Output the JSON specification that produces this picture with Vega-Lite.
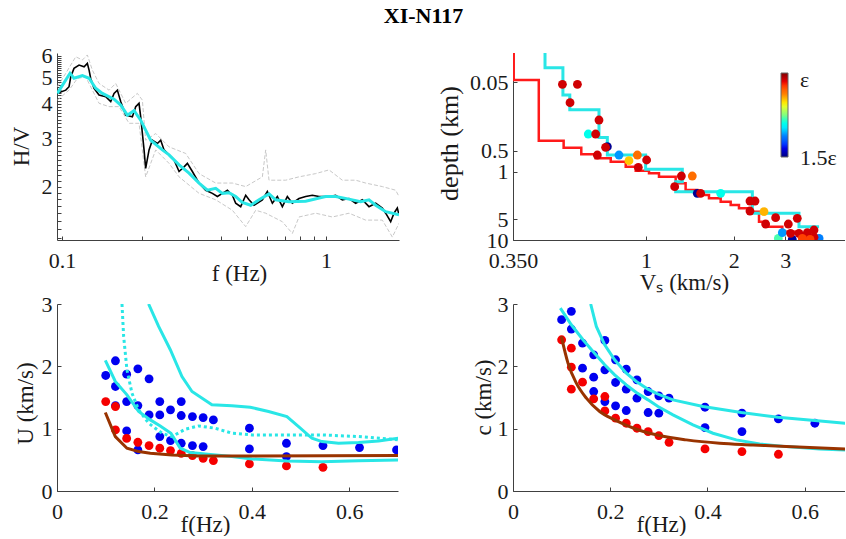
{
  "$schema": "https://vega.github.io/schema/vega-lite/v6.json",
  "title": {"text": "XI-N117", "font": "Liberation Serif", "fontSize": 22, "fontWeight": "bold", "color": "#000000", "anchor": "middle", "offset": 17, "dx": -4},
  "padding": {"left": 10, "top": 4, "right": 0, "bottom": 0},
  "autosize": {"type": "pad"},
  "bounds": "flush",
  "columns": 2,
  "spacing": {"row": 64, "column": 114},
  "config": {
    "font": "Liberation Serif",
    "view": {"stroke": null},
    "axis": {"grid": false, "labelFont": "Liberation Serif", "labelFontSize": 22, "labelColor": "#1a1a1a", "titleFont": "Liberation Serif", "titleFontSize": 23, "titleFontWeight": "normal", "titleColor": "#1a1a1a", "domainColor": "#404040", "tickColor": "#404040", "tickSize": -4, "domainWidth": 1, "tickWidth": 1, "labelOverlap": false, "labelFlush": false, "titleBaseline": "middle"},
    "axisX": {"labelPadding": 14},
    "axisY": {"labelPadding": 9}
  },
  "concat": [
    {
      "width": 342, "height": 187,
      "layer": [
        {
          "data": {"values": [
            {"s":"up","f":0.0960,"hv":4.62},{"s":"up","f":0.1033,"hv":5.17},{"s":"up","f":0.1127,"hv":5.94},{"s":"up","f":0.1194,"hv":5.78},{"s":"up","f":0.1247,"hv":6.03},{"s":"up","f":0.1303,"hv":5.31},{"s":"up","f":0.1381,"hv":4.75},{"s":"up","f":0.1507,"hv":4.49},{"s":"up","f":0.1597,"hv":4.75},{"s":"up","f":0.1742,"hv":4.02},{"s":"up","f":0.1929,"hv":4.37},{"s":"up","f":0.2015,"hv":4.13},{"s":"up","f":0.2074,"hv":2.95},{"s":"up","f":0.2264,"hv":3.12},{"s":"up","f":0.2543,"hv":2.79},{"s":"up","f":0.2941,"hv":2.64},{"s":"up","f":0.3304,"hv":2.23},{"s":"up","f":0.3821,"hv":2.06},{"s":"up","f":0.4418,"hv":2.06},{"s":"up","f":0.4963,"hv":2.00},{"s":"up","f":0.5739,"hv":2.17},{"s":"up","f":0.5908,"hv":2.72},{"s":"up","f":0.6082,"hv":2.11},{"s":"up","f":0.7034,"hv":2.11},{"s":"up","f":0.7901,"hv":2.17},{"s":"up","f":0.9136,"hv":2.23},{"s":"up","f":1.0265,"hv":2.30},{"s":"up","f":1.1531,"hv":2.11},{"s":"up","f":1.2952,"hv":2.11},{"s":"up","f":1.4132,"hv":2.06},{"s":"up","f":1.6343,"hv":2.00},{"s":"up","f":1.8359,"hv":1.94},{"s":"up","f":1.8899,"hv":1.84},
            {"s":"lo","f":0.0960,"hv":4.13},{"s":"lo","f":0.1063,"hv":4.49},{"s":"lo","f":0.1143,"hv":4.95},{"s":"lo","f":0.1229,"hv":5.02},{"s":"lo","f":0.1303,"hv":4.49},{"s":"lo","f":0.1381,"hv":4.02},{"s":"lo","f":0.1507,"hv":3.91},{"s":"lo","f":0.1644,"hv":3.91},{"s":"lo","f":0.1794,"hv":3.40},{"s":"lo","f":0.1957,"hv":3.40},{"s":"lo","f":0.2074,"hv":2.17},{"s":"lo","f":0.2264,"hv":2.72},{"s":"lo","f":0.2543,"hv":2.43},{"s":"lo","f":0.2775,"hv":2.17},{"s":"lo","f":0.3304,"hv":1.89},{"s":"lo","f":0.3821,"hv":1.79},{"s":"lo","f":0.4418,"hv":1.64},{"s":"lo","f":0.4963,"hv":1.43},{"s":"lo","f":0.5415,"hv":1.64},{"s":"lo","f":0.5908,"hv":1.60},{"s":"lo","f":0.6832,"hv":1.49},{"s":"lo","f":0.7455,"hv":1.35},{"s":"lo","f":0.7901,"hv":1.55},{"s":"lo","f":0.9136,"hv":1.60},{"s":"lo","f":1.0568,"hv":1.55},{"s":"lo","f":1.2221,"hv":1.60},{"s":"lo","f":1.4132,"hv":1.51},{"s":"lo","f":1.6343,"hv":1.51},{"s":"lo","f":1.7833,"hv":1.31},{"s":"lo","f":1.8899,"hv":1.47}
          ]},
          "mark": {"type": "line", "color": "#c8c8c8", "strokeWidth": 1, "strokeDash": [4, 2], "clip": true},
          "encoding": {
            "x": {"field": "f", "type": "quantitative", "scale": {"type": "log", "domain": [0.0957, 1.89], "nice": false},
                  "axis": {"values": [0.1,0.2,0.3,0.4,0.5,0.6,0.7,0.8,0.9,1], "labelExpr": "datum.value == 0.1 ? '0.1' : datum.value == 1 ? '1' : ''", "title": "f (Hz)", "titleX": 182, "titleY": 33}},
            "y": {"field": "hv", "type": "quantitative", "scale": {"type": "log", "domain": [1.278, 6.13], "nice": false},
                  "axis": {"values": [1.3,1.4,1.5,1.6,1.7,1.8,1.9,2,2.1,2.2,2.3,2.4,2.5,2.6,2.7,2.8,2.9,3,3.1,3.2,3.3,3.4,3.5,3.6,3.7,3.8,3.9,4,4.1,4.2,4.3,4.4,4.5,4.6,4.7,4.8,4.9,5,5.1,5.2,5.3,5.4,5.5,5.6,5.7,5.8,5.9,6], "labelExpr": "indexof([2,3,4,5,6], datum.value) >= 0 ? '' + datum.value : ''", "title": "H/V", "titleX": -36, "titleY": 93}},
            "detail": {"field": "s"}
          }
        },
        {
          "data": {"values": [
            {"f":0.0960,"hv":4.37},{"f":0.1033,"hv":4.49},{"f":0.1063,"hv":4.62},{"f":0.1079,"hv":5.02},{"f":0.1110,"hv":5.39},{"f":0.1160,"hv":5.54},{"f":0.1212,"hv":5.46},{"f":0.1247,"hv":5.62},{"f":0.1266,"hv":5.31},{"f":0.1284,"hv":4.95},{"f":0.1322,"hv":4.56},{"f":0.1381,"hv":4.31},{"f":0.1464,"hv":4.25},{"f":0.1529,"hv":4.08},{"f":0.1574,"hv":4.37},{"f":0.1620,"hv":4.49},{"f":0.1668,"hv":4.08},{"f":0.1742,"hv":3.64},{"f":0.1847,"hv":3.59},{"f":0.1901,"hv":3.91},{"f":0.1957,"hv":4.02},{"f":0.1986,"hv":3.59},{"f":0.2045,"hv":2.72},{"f":0.2074,"hv":2.33},{"f":0.2136,"hv":2.72},{"f":0.2199,"hv":2.95},{"f":0.2297,"hv":2.87},{"f":0.2365,"hv":2.95},{"f":0.2434,"hv":2.72},{"f":0.2543,"hv":2.61},{"f":0.2656,"hv":2.50},{"f":0.2775,"hv":2.27},{"f":0.2899,"hv":2.36},{"f":0.2984,"hv":2.43},{"f":0.3117,"hv":2.27},{"f":0.3304,"hv":2.06},{"f":0.3501,"hv":1.94},{"f":0.3711,"hv":1.89},{"f":0.3877,"hv":1.84},{"f":0.4049,"hv":1.89},{"f":0.4230,"hv":1.94},{"f":0.4418,"hv":1.86},{"f":0.4548,"hv":1.74},{"f":0.4751,"hv":1.69},{"f":0.4963,"hv":1.86},{"f":0.5109,"hv":1.79},{"f":0.5337,"hv":1.71},{"f":0.5739,"hv":1.79},{"f":0.5994,"hv":1.92},{"f":0.6262,"hv":1.74},{"f":0.6541,"hv":1.84},{"f":0.6832,"hv":1.69},{"f":0.7137,"hv":1.84},{"f":0.7455,"hv":1.74},{"f":0.7901,"hv":1.81},{"f":0.8373,"hv":1.84},{"f":0.8874,"hv":1.86},{"f":0.9406,"hv":1.84},{"f":1.0265,"hv":1.84},{"f":1.088,"hv":1.86},{"f":1.1531,"hv":1.79},{"f":1.2221,"hv":1.81},{"f":1.2952,"hv":1.74},{"f":1.3727,"hv":1.79},{"f":1.4549,"hv":1.69},{"f":1.542,"hv":1.74},{"f":1.6343,"hv":1.67},{"f":1.6826,"hv":1.60},{"f":1.7576,"hv":1.49},{"f":1.8094,"hv":1.60},{"f":1.8627,"hv":1.67},{"f":1.8899,"hv":1.58}
          ]},
          "mark": {"type": "line", "color": "#000000", "strokeWidth": 1.6, "clip": true},
          "encoding": {"x": {"field": "f", "type": "quantitative"}, "y": {"field": "hv", "type": "quantitative"}}
        },
        {
          "data": {"values": [
            {"f":0.0960,"hv":4.37},{"f":0.1072,"hv":5.17},{"f":0.1110,"hv":4.96},{"f":0.1194,"hv":5.07},{"f":0.1266,"hv":4.96},{"f":0.1341,"hv":4.56},{"f":0.1422,"hv":4.37},{"f":0.1574,"hv":4.16},{"f":0.1668,"hv":3.96},{"f":0.1768,"hv":3.64},{"f":0.1874,"hv":3.78},{"f":0.1986,"hv":3.49},{"f":0.2167,"hv":2.95},{"f":0.2399,"hv":2.72},{"f":0.2543,"hv":2.61},{"f":0.2775,"hv":2.40},{"f":0.3028,"hv":2.24},{"f":0.3304,"hv":2.06},{"f":0.3553,"hv":1.94},{"f":0.3821,"hv":1.97},{"f":0.4049,"hv":1.89},{"f":0.4292,"hv":1.90},{"f":0.4548,"hv":1.84},{"f":0.4821,"hv":1.75},{"f":0.5184,"hv":1.71},{"f":0.5574,"hv":1.79},{"f":0.6082,"hv":1.88},{"f":0.6446,"hv":1.79},{"f":0.7241,"hv":1.76},{"f":0.8373,"hv":1.77},{"f":0.9971,"hv":1.84},{"f":1.088,"hv":1.84},{"f":1.2221,"hv":1.80},{"f":1.353,"hv":1.76},{"f":1.4549,"hv":1.79},{"f":1.542,"hv":1.71},{"f":1.6826,"hv":1.62},{"f":1.8899,"hv":1.58}
          ]},
          "mark": {"type": "line", "color": "#29e6e6", "strokeWidth": 3, "clip": true},
          "encoding": {"x": {"field": "f", "type": "quantitative"}, "y": {"field": "hv", "type": "quantitative"}}
        },
        {
          "mark": {"type": "rect", "fill": "#ffffff", "stroke": "#000000", "strokeWidth": 1.3},
          "encoding": {"x": {"datum": 0.0957, "type": "quantitative"}, "x2": {"datum": 0.112}, "y": {"datum": 1.278, "type": "quantitative"}, "y2": {"datum": 1.563}}
        },
        {
          "mark": {"type": "text", "text": "A", "font": "Liberation Serif", "fontSize": 18, "align": "center", "baseline": "middle", "color": "#000000"},
          "encoding": {"x": {"datum": 0.1035, "type": "quantitative"}, "y": {"datum": 1.413, "type": "quantitative"}}
        }
      ]
    },
    {
      "width": 332, "height": 187,
      "layer": [
        {
          "data": {"values": [
            {"i":0,"v":0.352,"d":0.0186},{"i":1,"v":0.352,"d":0.0461},{"i":2,"v":0.429,"d":0.0461},{"i":3,"v":0.429,"d":0.355},{"i":4,"v":0.522,"d":0.355},{"i":5,"v":0.522,"d":0.45},{"i":6,"v":0.6,"d":0.45},{"i":7,"v":0.6,"d":0.56},{"i":8,"v":0.672,"d":0.56},{"i":9,"v":0.672,"d":0.642},{"i":10,"v":0.757,"d":0.642},{"i":11,"v":0.757,"d":0.718},{"i":12,"v":0.852,"d":0.718},{"i":13,"v":0.852,"d":0.85},{"i":14,"v":0.922,"d":0.85},{"i":15,"v":0.922,"d":0.972},{"i":16,"v":1.024,"d":0.972},{"i":17,"v":1.024,"d":1.064},{"i":18,"v":1.108,"d":1.064},{"i":19,"v":1.108,"d":1.19},{"i":20,"v":1.264,"d":1.19},{"i":21,"v":1.264,"d":1.489},{"i":22,"v":1.367,"d":1.489},{"i":23,"v":1.367,"d":1.862},{"i":24,"v":1.499,"d":1.862},{"i":25,"v":1.499,"d":2.203},{"i":26,"v":1.644,"d":2.203},{"i":27,"v":1.644,"d":2.464},{"i":28,"v":1.803,"d":2.464},{"i":29,"v":1.803,"d":2.756},{"i":30,"v":1.951,"d":2.756},{"i":31,"v":1.951,"d":3.083},{"i":32,"v":2.083,"d":3.083},{"i":33,"v":2.083,"d":3.448},{"i":34,"v":2.254,"d":3.448},{"i":35,"v":2.254,"d":3.857},{"i":36,"v":2.44,"d":3.857},{"i":37,"v":2.44,"d":5.4},{"i":38,"v":2.605,"d":5.4},{"i":39,"v":2.605,"d":6.39},{"i":40,"v":2.933,"d":6.39},{"i":41,"v":2.933,"d":7.55},{"i":42,"v":3.345,"d":7.55},{"i":43,"v":3.345,"d":8.94},{"i":44,"v":3.92,"d":8.94}
          ]},
          "mark": {"type": "line", "color": "#ff1a1a", "strokeWidth": 2.5, "clip": true},
          "encoding": {
            "x": {"field": "v", "type": "quantitative", "scale": {"type": "log", "domain": [0.35, 4.81], "nice": false},
                  "axis": {"values": [0.35, 1, 2, 3], "labelExpr": "datum.value < 0.5 ? '0.350' : '' + datum.value", "title": "Vₛ (km/s)", "titleX": 171, "titleY": 42}},
            "y": {"field": "d", "type": "quantitative", "scale": {"type": "log", "domain": [0.0186, 10], "nice": false, "reverse": true},
                  "axis": {"values": [0.05, 0.5, 1, 5, 10], "labelExpr": "'' + datum.value", "title": "depth (km)", "titleFontSize": 26, "titleX": -64, "titleY": 90}},
            "order": {"field": "i"}
          }
        },
        {
          "data": {"values": [
            {"i":0,"v":0.4506,"d":0.0186},{"i":1,"v":0.4506,"d":0.0305},{"i":2,"v":0.519,"d":0.0305},{"i":3,"v":0.519,"d":0.0764},{"i":4,"v":0.548,"d":0.0764},{"i":5,"v":0.548,"d":0.125},{"i":6,"v":0.69,"d":0.125},{"i":7,"v":0.69,"d":0.32},{"i":8,"v":0.737,"d":0.32},{"i":9,"v":0.737,"d":0.574},{"i":10,"v":0.997,"d":0.574},{"i":11,"v":0.997,"d":0.93},{"i":12,"v":1.332,"d":0.93},{"i":13,"v":1.332,"d":1.407},{"i":14,"v":1.264,"d":1.407},{"i":15,"v":1.264,"d":1.97},{"i":16,"v":2.315,"d":1.97},{"i":17,"v":2.315,"d":4.08},{"i":18,"v":3.345,"d":4.08},{"i":19,"v":3.345,"d":6.39},{"i":20,"v":3.92,"d":6.39}
          ]},
          "mark": {"type": "line", "color": "#29e6e6", "strokeWidth": 3, "clip": true},
          "encoding": {"x": {"field": "v", "type": "quantitative"}, "y": {"field": "d", "type": "quantitative"}, "order": {"field": "i"}}
        },
        {
          "data": {"values": [
            {"v":0.737,"d":0.434,"q":0.02},{"v":1.499,"d":2.084,"q":0.02},{"v":3.173,"d":9.78,"q":0.03},
            {"v":0.634,"d":0.2835,"q":0.40},{"v":0.808,"d":0.574,"q":0.27},{"v":0.934,"d":0.574,"q":0.78},{"v":1.441,"d":1.163,"q":0.78},{"v":0.874,"d":0.695,"q":0.68},{"v":2.538,"d":3.857,"q":0.70},{"v":1.803,"d":2.084,"q":0.40},{"v":2.842,"d":9.46,"q":0.46},{"v":2.933,"d":7.82,"q":0.27},{"v":3.92,"d":9.46,"q":0.25},
            {"v":0.517,"d":0.0534,"q":0.92},{"v":0.582,"d":0.0534,"q":0.92},{"v":0.549,"d":0.0989,"q":0.92},{"v":0.69,"d":0.177,"q":0.92},{"v":0.672,"d":0.2835,"q":0.92},{"v":0.727,"d":0.444,"q":0.92},{"v":0.681,"d":0.574,"q":0.92},{"v":1.005,"d":0.679,"q":0.92},{"v":0.941,"d":0.87,"q":0.92},{"v":1.322,"d":1.163,"q":0.92},{"v":1.254,"d":1.665,"q":0.92},{"v":1.539,"d":2.084,"q":0.92},{"v":2.272,"d":2.696,"q":0.92},{"v":2.364,"d":2.696,"q":0.92},{"v":2.272,"d":3.773,"q":0.92},{"v":2.782,"d":4.72,"q":0.92},{"v":2.571,"d":5.84,"q":0.92},{"v":3.075,"d":5.84,"q":0.92},{"v":3.301,"d":4.83,"q":0.92},{"v":3.132,"d":7.99,"q":0.92},{"v":3.345,"d":7.99,"q":0.92},{"v":3.573,"d":7.82,"q":0.92},{"v":3.766,"d":7.15,"q":0.92},{"v":3.766,"d":9.14,"q":0.92},{"v":3.48,"d":9.14,"q":0.92},
            {"v":3.434,"d":9.46,"q":0.84},{"v":3.65,"d":9.78,"q":0.84}
          ]},
          "mark": {"type": "point", "filled": true, "opacity": 1, "size": 78, "clip": true},
          "encoding": {
            "x": {"field": "v", "type": "quantitative"},
            "y": {"field": "d", "type": "quantitative"},
            "color": {"field": "q", "type": "quantitative",
                      "scale": {"domain": [0, 1], "range": ["#000080", "#0000ff", "#0080ff", "#00ffff", "#80ff80", "#ffff00", "#ff8000", "#ff0000", "#800000"]},
                      "legend": {"orient": "none", "legendX": 724, "legendY": 20, "direction": "vertical", "gradientLength": 84, "gradientThickness": 7, "title": null, "values": [-0.15, 1.036], "labelExpr": "datum.value > 0.5 ? 'ε' : '1.5ε'", "labelFont": "Liberation Serif", "labelFontSize": 22, "labelColor": "#1a1a1a", "labelOffset": 12, "gradientStrokeColor": "#666666", "gradientStrokeWidth": 1, "padding": 0}}
          }
        },
        {
          "mark": {"type": "rect", "fill": "#ffffff", "stroke": "#000000", "strokeWidth": 1.3},
          "encoding": {"x": {"datum": 0.35, "type": "quantitative"}, "x2": {"datum": 0.397}, "y": {"datum": 4.94, "type": "quantitative"}, "y2": {"datum": 10}}
        },
        {
          "mark": {"type": "text", "text": "B", "font": "Liberation Serif", "fontSize": 18, "align": "center", "baseline": "middle", "color": "#000000"},
          "encoding": {"x": {"datum": 0.373, "type": "quantitative"}, "y": {"datum": 7.03, "type": "quantitative"}}
        }
      ]
    },
    {
      "width": 341, "height": 187,
      "layer": [
        {
          "data": {"values": [
            {"f":0.1,"u":1.853},{"f":0.12,"u":2.089},{"f":0.12,"u":1.677},{"f":0.12,"u":1.37},{"f":0.143,"u":1.875},{"f":0.143,"u":1.435},{"f":0.143,"u":0.964},{"f":0.166,"u":1.96},{"f":0.166,"u":1.371},{"f":0.166,"u":0.659},{"f":0.189,"u":1.8},{"f":0.189,"u":1.221},{"f":0.211,"u":1.435},{"f":0.211,"u":1.221},{"f":0.211,"u":0.873},{"f":0.233,"u":1.302},{"f":0.233,"u":0.809},{"f":0.255,"u":1.435},{"f":0.255,"u":1.211},{"f":0.255,"u":0.766},{"f":0.278,"u":1.194},{"f":0.278,"u":0.728},{"f":0.3,"u":1.178},{"f":0.3,"u":0.712},{"f":0.321,"u":1.141},{"f":0.395,"u":1.007},{"f":0.395,"u":0.675},{"f":0.471,"u":0.766},{"f":0.471,"u":0.552},{"f":0.546,"u":0.728},{"f":0.621,"u":0.696},{"f":0.697,"u":0.659}
          ]},
          "mark": {"type": "point", "filled": true, "opacity": 1, "size": 78, "color": "#0000f0", "clip": true},
          "encoding": {
            "x": {"field": "f", "type": "quantitative", "scale": {"domain": [0, 0.7], "nice": false, "zero": false},
                  "axis": {"values": [0, 0.2, 0.4, 0.6], "labelExpr": "'' + datum.value", "title": "f(Hz)", "titleX": 148, "titleY": 33}},
            "y": {"field": "u", "type": "quantitative", "scale": {"domain": [0, 3], "nice": false},
                  "axis": {"values": [0, 1, 2, 3], "labelExpr": "'' + datum.value", "title": "U (km/s)", "titleX": -32, "titleY": 99}}
          }
        },
        {
          "data": {"values": [
            {"f":0.1,"u":1.435},{"f":0.12,"u":1.355},{"f":0.12,"u":0.98},{"f":0.143,"u":0.843},{"f":0.166,"u":0.782},{"f":0.189,"u":0.728},{"f":0.211,"u":0.686},{"f":0.233,"u":0.648},{"f":0.255,"u":0.605},{"f":0.278,"u":0.568},{"f":0.3,"u":0.525},{"f":0.321,"u":0.488},{"f":0.395,"u":0.434},{"f":0.471,"u":0.402},{"f":0.546,"u":0.38}
          ]},
          "mark": {"type": "point", "filled": true, "opacity": 1, "size": 78, "color": "#f50000", "clip": true},
          "encoding": {"x": {"field": "f", "type": "quantitative"}, "y": {"field": "u", "type": "quantitative"}}
        },
        {
          "data": {"values": [
            {"f":0.1334,"u":3.0},{"f":0.1368,"u":2.48},{"f":0.1436,"u":1.944},{"f":0.1539,"u":1.569},{"f":0.1676,"u":1.302},{"f":0.1881,"u":1.087},{"f":0.2155,"u":0.927},{"f":0.236,"u":0.873},{"f":0.2633,"u":0.991},{"f":0.2907,"u":1.044},{"f":0.3249,"u":1.007},{"f":0.3591,"u":0.927},{"f":0.4001,"u":0.9},{"f":0.472,"u":0.9},{"f":0.5438,"u":0.9},{"f":0.619,"u":0.873},{"f":0.701,"u":0.82}
          ]},
          "mark": {"type": "line", "color": "#29e6e6", "strokeWidth": 3, "strokeDash": [3, 3], "clip": true},
          "encoding": {"x": {"field": "f", "type": "quantitative"}, "y": {"field": "u", "type": "quantitative"}}
        },
        {
          "data": {"values": [
            {"s":"a","f":0.188,"u":3.0},{"s":"a","f":0.2086,"u":2.641},{"s":"a","f":0.2326,"u":2.266},{"s":"a","f":0.2565,"u":1.837},{"s":"a","f":0.2771,"u":1.596},{"s":"a","f":0.318,"u":1.382},{"s":"a","f":0.359,"u":1.366},{"s":"a","f":0.3967,"u":1.344},{"s":"a","f":0.4343,"u":1.275},{"s":"a","f":0.472,"u":1.194},{"s":"a","f":0.4959,"u":1.034},{"s":"a","f":0.5233,"u":0.846},{"s":"a","f":0.5438,"u":0.793},{"s":"a","f":0.578,"u":0.766},{"s":"a","f":0.619,"u":0.777},{"s":"a","f":0.66,"u":0.803},{"s":"a","f":0.701,"u":0.846},
            {"s":"b","f":0.0992,"u":2.094},{"s":"b","f":0.1197,"u":1.757},{"s":"b","f":0.1436,"u":1.543},{"s":"b","f":0.1676,"u":1.275},{"s":"b","f":0.1915,"u":1.141},{"s":"b","f":0.212,"u":1.044},{"s":"b","f":0.2339,"u":0.927},{"s":"b","f":0.2531,"u":0.686},{"s":"b","f":0.2736,"u":0.616},{"s":"b","f":0.3044,"u":0.595},{"s":"b","f":0.3591,"u":0.552},{"s":"b","f":0.4001,"u":0.514},{"s":"b","f":0.472,"u":0.482},{"s":"b","f":0.5438,"u":0.471},{"s":"b","f":0.619,"u":0.487},{"s":"b","f":0.701,"u":0.498}
          ]},
          "mark": {"type": "line", "color": "#29e6e6", "strokeWidth": 3, "clip": true},
          "encoding": {"x": {"field": "f", "type": "quantitative"}, "y": {"field": "u", "type": "quantitative"}, "detail": {"field": "s"}}
        },
        {
          "data": {"values": [
            {"f":0.0992,"u":1.259},{"f":0.1197,"u":0.873},{"f":0.1436,"u":0.686},{"f":0.1676,"u":0.632},{"f":0.1915,"u":0.605},{"f":0.236,"u":0.578},{"f":0.2907,"u":0.562},{"f":0.4001,"u":0.562},{"f":0.701,"u":0.568}
          ]},
          "mark": {"type": "line", "color": "#993300", "strokeWidth": 3, "clip": true},
          "encoding": {"x": {"field": "f", "type": "quantitative"}, "y": {"field": "u", "type": "quantitative"}}
        },
        {
          "mark": {"type": "rect", "fill": "#ffffff", "stroke": "#000000", "strokeWidth": 1.3},
          "encoding": {"x": {"datum": 0, "type": "quantitative"}, "x2": {"datum": 0.036}, "y": {"datum": 0, "type": "quantitative"}, "y2": {"datum": 0.39}}
        },
        {
          "mark": {"type": "text", "text": "C", "font": "Liberation Serif", "fontSize": 18, "align": "center", "baseline": "middle", "color": "#000000"},
          "encoding": {"x": {"datum": 0.018, "type": "quantitative"}, "y": {"datum": 0.195, "type": "quantitative"}}
        }
      ]
    },
    {
      "width": 332, "height": 187,
      "layer": [
        {
          "data": {"values": [
            {"f":0.1,"c":2.748},{"f":0.12,"c":2.882},{"f":0.12,"c":2.598},{"f":0.143,"c":2.373},{"f":0.143,"c":1.971},{"f":0.166,"c":2.185},{"f":0.166,"c":1.826},{"f":0.166,"c":1.596},{"f":0.189,"c":2.416},{"f":0.189,"c":1.944},{"f":0.189,"c":1.435},{"f":0.211,"c":2.105},{"f":0.211,"c":1.741},{"f":0.211,"c":1.366},{"f":0.233,"c":1.955},{"f":0.233,"c":1.634},{"f":0.233,"c":1.291},{"f":0.255,"c":1.784},{"f":0.255,"c":1.489},{"f":0.278,"c":1.596},{"f":0.278,"c":1.259},{"f":0.3,"c":1.527},{"f":0.3,"c":1.248},{"f":0.321,"c":1.489},{"f":0.395,"c":1.344},{"f":0.395,"c":1.018},{"f":0.471,"c":1.248},{"f":0.471,"c":0.953},{"f":0.546,"c":1.157},{"f":0.621,"c":1.087}
          ]},
          "mark": {"type": "point", "filled": true, "opacity": 1, "size": 78, "color": "#0000f0", "clip": true},
          "encoding": {
            "x": {"field": "f", "type": "quantitative", "scale": {"domain": [0, 0.683], "nice": false, "zero": false},
                  "axis": {"values": [0, 0.2, 0.4, 0.6], "labelExpr": "'' + datum.value", "title": "f(Hz)", "titleX": 148, "titleY": 33}},
            "y": {"field": "c", "type": "quantitative", "scale": {"domain": [0, 3], "nice": false},
                  "axis": {"values": [0, 1, 2, 3], "labelExpr": "'' + datum.value", "title": "c (km/s)", "titleX": -30, "titleY": 93}}
          }
        },
        {
          "data": {"values": [
            {"f":0.1,"c":2.426},{"f":0.12,"c":2.292},{"f":0.12,"c":1.987},{"f":0.12,"c":1.634},{"f":0.143,"c":1.746},{"f":0.166,"c":1.478},{"f":0.189,"c":1.516},{"f":0.189,"c":1.285},{"f":0.211,"c":1.168},{"f":0.233,"c":1.087},{"f":0.255,"c":1.007},{"f":0.278,"c":0.953},{"f":0.3,"c":0.889},{"f":0.321,"c":0.782},{"f":0.395,"c":0.675},{"f":0.471,"c":0.632},{"f":0.546,"c":0.589}
          ]},
          "mark": {"type": "point", "filled": true, "opacity": 1, "size": 78, "color": "#f50000", "clip": true},
          "encoding": {"x": {"field": "f", "type": "quantitative"}, "y": {"field": "c", "type": "quantitative"}}
        },
        {
          "data": {"values": [
            {"s":"a","f":0.0974,"c":2.935},{"s":"a","f":0.12,"c":2.667},{"s":"a","f":0.144,"c":2.426},{"s":"a","f":0.1646,"c":2.239},{"s":"a","f":0.1886,"c":2.025},{"s":"a","f":0.2091,"c":1.864},{"s":"a","f":0.2331,"c":1.703},{"s":"a","f":0.2537,"c":1.58},{"s":"a","f":0.2777,"c":1.462},{"s":"a","f":0.2983,"c":1.355},{"s":"a","f":0.3291,"c":1.221},{"s":"a","f":0.3703,"c":1.061},{"s":"a","f":0.4114,"c":0.927},{"s":"a","f":0.4594,"c":0.82},{"s":"a","f":0.5074,"c":0.755},{"s":"a","f":0.5623,"c":0.712},{"s":"a","f":0.6309,"c":0.675},{"s":"a","f":0.6844,"c":0.659},
            {"s":"b","f":0.1598,"c":3.0},{"s":"b","f":0.1714,"c":2.641},{"s":"b","f":0.1886,"c":2.346},{"s":"b","f":0.2091,"c":2.105},{"s":"b","f":0.2331,"c":1.891},{"s":"b","f":0.2537,"c":1.757},{"s":"b","f":0.2777,"c":1.634},{"s":"b","f":0.2983,"c":1.553},{"s":"b","f":0.3291,"c":1.462},{"s":"b","f":0.3909,"c":1.355},{"s":"b","f":0.4697,"c":1.259},{"s":"b","f":0.5452,"c":1.184},{"s":"b","f":0.6206,"c":1.13},{"s":"b","f":0.6844,"c":1.087}
          ]},
          "mark": {"type": "line", "color": "#29e6e6", "strokeWidth": 3, "clip": true},
          "encoding": {"x": {"field": "f", "type": "quantitative"}, "y": {"field": "c", "type": "quantitative"}, "detail": {"field": "s"}}
        },
        {
          "data": {"values": [
            {"f":0.0994,"c":2.48},{"f":0.1131,"c":2.051},{"f":0.1303,"c":1.73},{"f":0.1509,"c":1.489},{"f":0.1783,"c":1.275},{"f":0.2091,"c":1.141},{"f":0.2537,"c":0.991},{"f":0.3017,"c":0.889},{"f":0.3566,"c":0.82},{"f":0.4251,"c":0.766},{"f":0.4937,"c":0.739},{"f":0.5623,"c":0.712},{"f":0.6844,"c":0.675}
          ]},
          "mark": {"type": "line", "color": "#993300", "strokeWidth": 3, "clip": true, "interpolate": "monotone"},
          "encoding": {"x": {"field": "f", "type": "quantitative"}, "y": {"field": "c", "type": "quantitative"}}
        },
        {
          "mark": {"type": "rect", "fill": "#ffffff", "stroke": "#000000", "strokeWidth": 1.3},
          "encoding": {"x": {"datum": 0, "type": "quantitative"}, "x2": {"datum": 0.0357}, "y": {"datum": 0, "type": "quantitative"}, "y2": {"datum": 0.39}}
        },
        {
          "mark": {"type": "text", "text": "D", "font": "Liberation Serif", "fontSize": 18, "align": "center", "baseline": "middle", "color": "#000000"},
          "encoding": {"x": {"datum": 0.018, "type": "quantitative"}, "y": {"datum": 0.195, "type": "quantitative"}}
        }
      ]
    }
  ]
}
